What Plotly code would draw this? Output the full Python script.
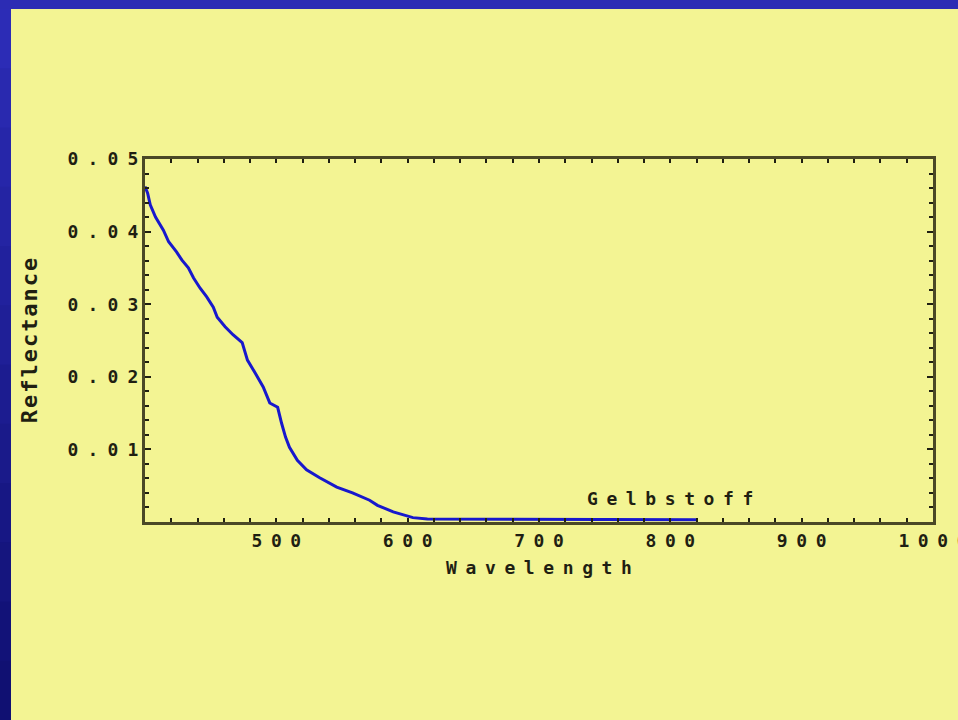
import plotly.graph_objects as go

# Gelbstoff reflectance spectrum
wavelength = [400, 402, 404, 408, 414, 418, 424, 428, 433, 437, 442, 447, 452, 455,
              461, 467, 474, 478, 484, 490, 495, 501, 504, 507, 510, 516, 523, 533,
              546, 558, 571, 577, 589, 604, 615, 657, 820]
reflectance = [0.0462, 0.0453, 0.0437, 0.0420, 0.0402, 0.0386, 0.0372, 0.0361, 0.0350,
               0.0336, 0.0322, 0.0310, 0.0296, 0.0282, 0.0269, 0.0258, 0.0247, 0.0223,
               0.0205, 0.0186, 0.0164, 0.0158, 0.0136, 0.0117, 0.0103, 0.0085, 0.0072,
               0.0061, 0.0048, 0.0040, 0.0030, 0.0023, 0.0014, 0.0006, 0.0004, 0.0004,
               0.0003]

x_ticks = [500, 600, 700, 800, 900, 1000]
y_ticks = [0.01, 0.02, 0.03, 0.04, 0.05]
y_tick_labels = ["0.01", "0.02", "0.03", "0.04", "0.05"]
x_title = "Wavelength"
y_title = "Reflectance"
label_text = "Gelbstoff"

W, H = 958, 720
L, R, T, B = 145, 933, 159, 522
YELLOW = "#F3F493"
INK = "#1f1f12"
FONT = "DejaVu Sans Mono"


def spaced(s, sp):
    # letter-spacing on all characters except the last one
    return f'<span style="letter-spacing:{sp}px">{s[:-1]}</span>{s[-1]}'


def px2paper_x(px):
    return (px - L) / (R - L)


def px2paper_y(py):
    return (B - py) / (B - T)


fig = go.Figure()
fig.add_trace(go.Scatter(
    x=wavelength, y=reflectance, mode="lines",
    line=dict(color="#1818cc", width=3),
    showlegend=False, hoverinfo="skip",
))

shapes = []
# yellow slide background
shapes.append(dict(type="rect", xref="paper", yref="paper",
                   x0=px2paper_x(11), x1=px2paper_x(W + 5),
                   y0=px2paper_y(H + 5), y1=px2paper_y(9),
                   fillcolor=YELLOW, line=dict(width=0), layer="below"))
# blue left border gradient
n = 12
for i in range(n):
    t = i / (n - 1)
    r = int(0x2C + (0x10 - 0x2C) * t)
    g = int(0x2C + (0x10 - 0x2C) * t)
    b = int(0xB6 + (0x72 - 0xB6) * t)
    shapes.append(dict(type="rect", xref="paper", yref="paper",
                       x0=px2paper_x(-5), x1=px2paper_x(11),
                       y0=px2paper_y(9 + (H - 9) * (i + 1) / n + 1),
                       y1=px2paper_y(9 + (H - 9) * i / n),
                       fillcolor=f"rgb({r},{g},{b})", line=dict(width=0), layer="below"))

fig.update_layout(
    width=W, height=H,
    margin=dict(l=L, r=W - R, t=T, b=H - B, autoexpand=False),
    paper_bgcolor="#2C2CB4",
    plot_bgcolor="rgba(0,0,0,0)",
    shapes=shapes,
    font=dict(family=FONT, color=INK),
    annotations=[dict(
        x=800, y=0.0032, xref="x", yref="y",
        text=spaced(label_text, 8.6), showarrow=False,
        font=dict(family=FONT, size=18, color=INK, weight="bold"),
        xanchor="center", yanchor="middle",
    )],
)

fig.update_xaxes(
    range=[400, 1000], tickmode="array", tickvals=x_ticks,
    ticktext=[spaced(str(v), 8.6) for v in x_ticks],
    ticks="inside", ticklen=4, tickwidth=2, tickcolor=INK,
    minor=dict(tick0=400, dtick=20, ticks="inside", ticklen=4, tickwidth=2, tickcolor=INK),
    showline=True, linecolor="#4a4826", linewidth=3, mirror="ticks",
    showgrid=False, zeroline=False, ticklabeloverflow="allow",
    tickfont=dict(family=FONT, size=18, color=INK, weight="bold"),
    title=dict(text=spaced(x_title, 8.6), standoff=12,
               font=dict(family=FONT, size=18, color=INK, weight="bold")),
)
fig.update_yaxes(
    range=[0, 0.05], tickmode="array", tickvals=y_ticks,
    ticktext=[spaced(s, 9.2) for s in y_tick_labels],
    ticks="inside", ticklen=6, tickwidth=2, tickcolor=INK,
    minor=dict(tick0=0, dtick=0.002, ticks="inside", ticklen=4, tickwidth=2, tickcolor=INK),
    showline=True, linecolor="#4a4826", linewidth=3, mirror="ticks",
    showgrid=False, zeroline=False,
    tickfont=dict(family=FONT, size=18, color=INK, weight="bold"),
    title=dict(text=spaced(y_title, 2.0), standoff=24,
               font=dict(family=FONT, size=22, color=INK, weight="bold")),
)

fig.write_html("out.html", config={"displayModeBar": False},
               post_script="document.body.style.margin='0px';")
